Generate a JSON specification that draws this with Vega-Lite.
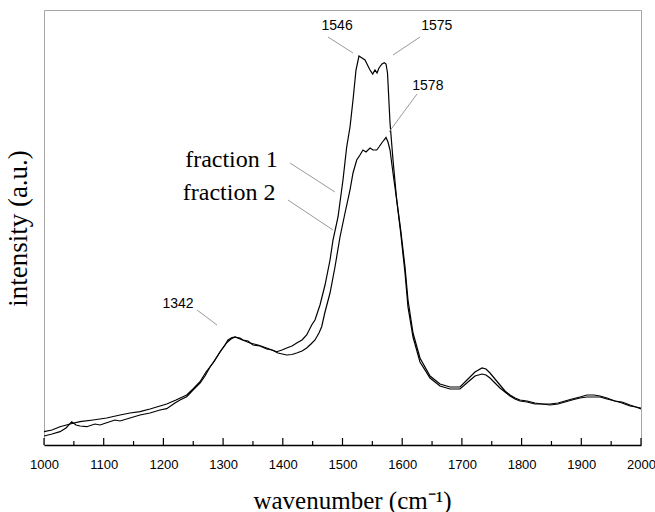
{
  "$schema": "https://vega.github.io/schema/vega-lite/v6.json",
  "width": 597,
  "height": 435,
  "autosize": {"type": "none"},
  "padding": {"left": 44, "top": 10, "right": 14, "bottom": 67},
  "background": "white",
  "config": {
    "view": {"stroke": "#a6a6a6", "strokeWidth": 1},
    "axis": {"grid": false}
  },
  "datasets": {
    "spectra": [
      {"wn": 1000, "inten": 9, "series": "fraction 1"},
      {"wn": 1013.4, "inten": 11, "series": "fraction 1"},
      {"wn": 1026.8, "inten": 13.3, "series": "fraction 1"},
      {"wn": 1036.9, "inten": 17, "series": "fraction 1"},
      {"wn": 1046.4, "inten": 23.3, "series": "fraction 1"},
      {"wn": 1053.6, "inten": 20, "series": "fraction 1"},
      {"wn": 1060.3, "inten": 19, "series": "fraction 1"},
      {"wn": 1071.5, "inten": 18.3, "series": "fraction 1"},
      {"wn": 1085.4, "inten": 21, "series": "fraction 1"},
      {"wn": 1093.8, "inten": 20, "series": "fraction 1"},
      {"wn": 1105.0, "inten": 22.3, "series": "fraction 1"},
      {"wn": 1118.9, "inten": 25, "series": "fraction 1"},
      {"wn": 1127.3, "inten": 24, "series": "fraction 1"},
      {"wn": 1144.1, "inten": 27, "series": "fraction 1"},
      {"wn": 1160.8, "inten": 30, "series": "fraction 1"},
      {"wn": 1177.6, "inten": 32, "series": "fraction 1"},
      {"wn": 1194.3, "inten": 35, "series": "fraction 1"},
      {"wn": 1205.5, "inten": 36.3, "series": "fraction 1"},
      {"wn": 1219.4, "inten": 42, "series": "fraction 1"},
      {"wn": 1227.8, "inten": 45, "series": "fraction 1"},
      {"wn": 1239.0, "inten": 48.3, "series": "fraction 1"},
      {"wn": 1249.6, "inten": 55, "series": "fraction 1"},
      {"wn": 1261.3, "inten": 62, "series": "fraction 1"},
      {"wn": 1269.7, "inten": 69, "series": "fraction 1"},
      {"wn": 1278.1, "inten": 78, "series": "fraction 1"},
      {"wn": 1286.4, "inten": 85, "series": "fraction 1"},
      {"wn": 1294.8, "inten": 93, "series": "fraction 1"},
      {"wn": 1303.2, "inten": 100, "series": "fraction 1"},
      {"wn": 1308.2, "inten": 105, "series": "fraction 1"},
      {"wn": 1314.9, "inten": 107.5, "series": "fraction 1"},
      {"wn": 1319.9, "inten": 108, "series": "fraction 1"},
      {"wn": 1328.3, "inten": 107, "series": "fraction 1"},
      {"wn": 1333.3, "inten": 105, "series": "fraction 1"},
      {"wn": 1341.7, "inten": 104, "series": "fraction 1"},
      {"wn": 1350.1, "inten": 100, "series": "fraction 1"},
      {"wn": 1361.8, "inten": 99, "series": "fraction 1"},
      {"wn": 1373.0, "inten": 96, "series": "fraction 1"},
      {"wn": 1381.9, "inten": 95, "series": "fraction 1"},
      {"wn": 1389.8, "inten": 93.3, "series": "fraction 1"},
      {"wn": 1398.7, "inten": 95, "series": "fraction 1"},
      {"wn": 1406.5, "inten": 97, "series": "fraction 1"},
      {"wn": 1415.4, "inten": 99, "series": "fraction 1"},
      {"wn": 1423.3, "inten": 102, "series": "fraction 1"},
      {"wn": 1432.2, "inten": 105, "series": "fraction 1"},
      {"wn": 1440.0, "inten": 110, "series": "fraction 1"},
      {"wn": 1448.4, "inten": 120, "series": "fraction 1"},
      {"wn": 1453.9, "inten": 125, "series": "fraction 1"},
      {"wn": 1462.3, "inten": 140, "series": "fraction 1"},
      {"wn": 1470.7, "inten": 160, "series": "fraction 1"},
      {"wn": 1479.1, "inten": 185, "series": "fraction 1"},
      {"wn": 1484.1, "inten": 205, "series": "fraction 1"},
      {"wn": 1492.5, "inten": 228, "series": "fraction 1"},
      {"wn": 1500.8, "inten": 265, "series": "fraction 1"},
      {"wn": 1507.0, "inten": 298, "series": "fraction 1"},
      {"wn": 1512.6, "inten": 318, "series": "fraction 1"},
      {"wn": 1517.6, "inten": 345, "series": "fraction 1"},
      {"wn": 1522.6, "inten": 375, "series": "fraction 1"},
      {"wn": 1527.6, "inten": 389, "series": "fraction 1"},
      {"wn": 1532.7, "inten": 387, "series": "fraction 1"},
      {"wn": 1537.7, "inten": 385, "series": "fraction 1"},
      {"wn": 1542.7, "inten": 379, "series": "fraction 1"},
      {"wn": 1546.1, "inten": 375, "series": "fraction 1"},
      {"wn": 1550.6, "inten": 371, "series": "fraction 1"},
      {"wn": 1554.4, "inten": 375, "series": "fraction 1"},
      {"wn": 1557.8, "inten": 372, "series": "fraction 1"},
      {"wn": 1561.1, "inten": 377, "series": "fraction 1"},
      {"wn": 1566.2, "inten": 381, "series": "fraction 1"},
      {"wn": 1570.0, "inten": 382.3, "series": "fraction 1"},
      {"wn": 1572.9, "inten": 381, "series": "fraction 1"},
      {"wn": 1575.4, "inten": 372, "series": "fraction 1"},
      {"wn": 1579.6, "inten": 322, "series": "fraction 1"},
      {"wn": 1584.6, "inten": 285, "series": "fraction 1"},
      {"wn": 1590.8, "inten": 245, "series": "fraction 1"},
      {"wn": 1597.5, "inten": 215, "series": "fraction 1"},
      {"wn": 1604.7, "inten": 178, "series": "fraction 1"},
      {"wn": 1609.7, "inten": 145, "series": "fraction 1"},
      {"wn": 1618.1, "inten": 112, "series": "fraction 1"},
      {"wn": 1629.8, "inten": 87, "series": "fraction 1"},
      {"wn": 1646.6, "inten": 69, "series": "fraction 1"},
      {"wn": 1663.3, "inten": 61, "series": "fraction 1"},
      {"wn": 1680.1, "inten": 58, "series": "fraction 1"},
      {"wn": 1696.8, "inten": 58, "series": "fraction 1"},
      {"wn": 1710.2, "inten": 66, "series": "fraction 1"},
      {"wn": 1721.9, "inten": 73, "series": "fraction 1"},
      {"wn": 1733.7, "inten": 77, "series": "fraction 1"},
      {"wn": 1740.4, "inten": 76, "series": "fraction 1"},
      {"wn": 1747.1, "inten": 72, "series": "fraction 1"},
      {"wn": 1755.4, "inten": 66, "series": "fraction 1"},
      {"wn": 1763.8, "inten": 60, "series": "fraction 1"},
      {"wn": 1772.2, "inten": 54, "series": "fraction 1"},
      {"wn": 1780.6, "inten": 50, "series": "fraction 1"},
      {"wn": 1789.0, "inten": 47, "series": "fraction 1"},
      {"wn": 1797.3, "inten": 45, "series": "fraction 1"},
      {"wn": 1809.0, "inten": 44, "series": "fraction 1"},
      {"wn": 1822.4, "inten": 42, "series": "fraction 1"},
      {"wn": 1834.2, "inten": 41, "series": "fraction 1"},
      {"wn": 1847.6, "inten": 41, "series": "fraction 1"},
      {"wn": 1861.0, "inten": 42, "series": "fraction 1"},
      {"wn": 1872.7, "inten": 44, "series": "fraction 1"},
      {"wn": 1884.4, "inten": 46, "series": "fraction 1"},
      {"wn": 1897.8, "inten": 48, "series": "fraction 1"},
      {"wn": 1909.5, "inten": 50, "series": "fraction 1"},
      {"wn": 1921.3, "inten": 50, "series": "fraction 1"},
      {"wn": 1931.3, "inten": 49, "series": "fraction 1"},
      {"wn": 1943.0, "inten": 47, "series": "fraction 1"},
      {"wn": 1956.4, "inten": 44, "series": "fraction 1"},
      {"wn": 1968.2, "inten": 43, "series": "fraction 1"},
      {"wn": 1981.6, "inten": 40, "series": "fraction 1"},
      {"wn": 1991.6, "inten": 38, "series": "fraction 1"},
      {"wn": 2000, "inten": 37, "series": "fraction 1"},

      {"wn": 1000, "inten": 13.3, "series": "fraction 2"},
      {"wn": 1013.4, "inten": 15, "series": "fraction 2"},
      {"wn": 1026.8, "inten": 18.3, "series": "fraction 2"},
      {"wn": 1043.6, "inten": 21, "series": "fraction 2"},
      {"wn": 1060.3, "inten": 23.3, "series": "fraction 2"},
      {"wn": 1082.1, "inten": 25, "series": "fraction 2"},
      {"wn": 1105.0, "inten": 27, "series": "fraction 2"},
      {"wn": 1127.3, "inten": 30, "series": "fraction 2"},
      {"wn": 1144.1, "inten": 32, "series": "fraction 2"},
      {"wn": 1160.8, "inten": 33.3, "series": "fraction 2"},
      {"wn": 1177.6, "inten": 36, "series": "fraction 2"},
      {"wn": 1194.3, "inten": 39, "series": "fraction 2"},
      {"wn": 1205.5, "inten": 41, "series": "fraction 2"},
      {"wn": 1221.1, "inten": 45, "series": "fraction 2"},
      {"wn": 1239.0, "inten": 50, "series": "fraction 2"},
      {"wn": 1249.6, "inten": 56, "series": "fraction 2"},
      {"wn": 1261.3, "inten": 63.3, "series": "fraction 2"},
      {"wn": 1271.4, "inten": 73, "series": "fraction 2"},
      {"wn": 1283.1, "inten": 82, "series": "fraction 2"},
      {"wn": 1294.8, "inten": 93, "series": "fraction 2"},
      {"wn": 1306.0, "inten": 102.3, "series": "fraction 2"},
      {"wn": 1313.2, "inten": 106, "series": "fraction 2"},
      {"wn": 1319.9, "inten": 108, "series": "fraction 2"},
      {"wn": 1328.3, "inten": 106, "series": "fraction 2"},
      {"wn": 1336.7, "inten": 104, "series": "fraction 2"},
      {"wn": 1345.1, "inten": 102, "series": "fraction 2"},
      {"wn": 1358.5, "inten": 100, "series": "fraction 2"},
      {"wn": 1373.0, "inten": 97, "series": "fraction 2"},
      {"wn": 1381.9, "inten": 95, "series": "fraction 2"},
      {"wn": 1391.9, "inten": 92, "series": "fraction 2"},
      {"wn": 1406.5, "inten": 90, "series": "fraction 2"},
      {"wn": 1415.4, "inten": 90.5, "series": "fraction 2"},
      {"wn": 1423.3, "inten": 92, "series": "fraction 2"},
      {"wn": 1432.2, "inten": 94, "series": "fraction 2"},
      {"wn": 1440.0, "inten": 97, "series": "fraction 2"},
      {"wn": 1447.2, "inten": 101, "series": "fraction 2"},
      {"wn": 1453.9, "inten": 105, "series": "fraction 2"},
      {"wn": 1460.6, "inten": 112, "series": "fraction 2"},
      {"wn": 1465.1, "inten": 118.3, "series": "fraction 2"},
      {"wn": 1470.7, "inten": 133, "series": "fraction 2"},
      {"wn": 1479.1, "inten": 152, "series": "fraction 2"},
      {"wn": 1487.4, "inten": 178, "series": "fraction 2"},
      {"wn": 1495.8, "inten": 208, "series": "fraction 2"},
      {"wn": 1504.2, "inten": 232, "series": "fraction 2"},
      {"wn": 1512.6, "inten": 255, "series": "fraction 2"},
      {"wn": 1517.6, "inten": 272, "series": "fraction 2"},
      {"wn": 1523.8, "inten": 285, "series": "fraction 2"},
      {"wn": 1529.3, "inten": 290, "series": "fraction 2"},
      {"wn": 1534.3, "inten": 295, "series": "fraction 2"},
      {"wn": 1539.4, "inten": 293, "series": "fraction 2"},
      {"wn": 1546.1, "inten": 297, "series": "fraction 2"},
      {"wn": 1551.1, "inten": 295, "series": "fraction 2"},
      {"wn": 1557.3, "inten": 295, "series": "fraction 2"},
      {"wn": 1561.1, "inten": 298, "series": "fraction 2"},
      {"wn": 1565.7, "inten": 302, "series": "fraction 2"},
      {"wn": 1569.5, "inten": 305, "series": "fraction 2"},
      {"wn": 1572.9, "inten": 307.5, "series": "fraction 2"},
      {"wn": 1576.2, "inten": 303, "series": "fraction 2"},
      {"wn": 1579.6, "inten": 295, "series": "fraction 2"},
      {"wn": 1584.6, "inten": 272, "series": "fraction 2"},
      {"wn": 1590.8, "inten": 245, "series": "fraction 2"},
      {"wn": 1597.5, "inten": 212, "series": "fraction 2"},
      {"wn": 1604.7, "inten": 172, "series": "fraction 2"},
      {"wn": 1609.7, "inten": 138, "series": "fraction 2"},
      {"wn": 1618.1, "inten": 108, "series": "fraction 2"},
      {"wn": 1629.8, "inten": 83, "series": "fraction 2"},
      {"wn": 1646.6, "inten": 67, "series": "fraction 2"},
      {"wn": 1663.3, "inten": 59, "series": "fraction 2"},
      {"wn": 1680.1, "inten": 56, "series": "fraction 2"},
      {"wn": 1696.8, "inten": 56, "series": "fraction 2"},
      {"wn": 1710.2, "inten": 63, "series": "fraction 2"},
      {"wn": 1721.9, "inten": 69, "series": "fraction 2"},
      {"wn": 1733.7, "inten": 71, "series": "fraction 2"},
      {"wn": 1740.4, "inten": 70, "series": "fraction 2"},
      {"wn": 1747.1, "inten": 67, "series": "fraction 2"},
      {"wn": 1755.4, "inten": 62, "series": "fraction 2"},
      {"wn": 1763.8, "inten": 57, "series": "fraction 2"},
      {"wn": 1772.2, "inten": 53, "series": "fraction 2"},
      {"wn": 1780.6, "inten": 49, "series": "fraction 2"},
      {"wn": 1789.0, "inten": 46, "series": "fraction 2"},
      {"wn": 1797.3, "inten": 44, "series": "fraction 2"},
      {"wn": 1809.0, "inten": 43, "series": "fraction 2"},
      {"wn": 1822.4, "inten": 41, "series": "fraction 2"},
      {"wn": 1834.2, "inten": 41, "series": "fraction 2"},
      {"wn": 1847.6, "inten": 40, "series": "fraction 2"},
      {"wn": 1861.0, "inten": 41, "series": "fraction 2"},
      {"wn": 1872.7, "inten": 43, "series": "fraction 2"},
      {"wn": 1884.4, "inten": 45, "series": "fraction 2"},
      {"wn": 1897.8, "inten": 47, "series": "fraction 2"},
      {"wn": 1909.5, "inten": 48, "series": "fraction 2"},
      {"wn": 1921.3, "inten": 48, "series": "fraction 2"},
      {"wn": 1931.3, "inten": 48, "series": "fraction 2"},
      {"wn": 1943.0, "inten": 46, "series": "fraction 2"},
      {"wn": 1956.4, "inten": 44, "series": "fraction 2"},
      {"wn": 1968.2, "inten": 42, "series": "fraction 2"},
      {"wn": 1981.6, "inten": 39, "series": "fraction 2"},
      {"wn": 1991.6, "inten": 38, "series": "fraction 2"},
      {"wn": 2000, "inten": 36, "series": "fraction 2"}
    ],
    "peaks": [
      {"wn": 1491, "inten": 415, "label": "1546"},
      {"wn": 1658, "inten": 415, "label": "1575"},
      {"wn": 1643, "inten": 355, "label": "1578"},
      {"wn": 1224.5, "inten": 137, "label": "1342"}
    ],
    "names": [
      {"wn": 1314, "inten": 278, "label": "fraction 1"},
      {"wn": 1310, "inten": 245, "label": "fraction 2"}
    ],
    "leaders": [
      {"wn": 1475.7, "inten": 408, "wn2": 1517.6, "inten2": 392},
      {"wn": 1629.8, "inten": 408, "wn2": 1584.6, "inten2": 390},
      {"wn": 1624.8, "inten": 351, "wn2": 1577.9, "inten2": 313},
      {"wn": 1256.3, "inten": 135, "wn2": 1289.8, "inten2": 120},
      {"wn": 1412.1, "inten": 282, "wn2": 1487.4, "inten2": 253},
      {"wn": 1408.7, "inten": 245, "wn2": 1484.1, "inten2": 215}
    ],
    "tickvals": [
      {"wn": 1000}, {"wn": 1050}, {"wn": 1100}, {"wn": 1150}, {"wn": 1200},
      {"wn": 1250}, {"wn": 1300}, {"wn": 1350}, {"wn": 1400}, {"wn": 1450},
      {"wn": 1500}, {"wn": 1550}, {"wn": 1600}, {"wn": 1650}, {"wn": 1700},
      {"wn": 1750}, {"wn": 1800}, {"wn": 1850}, {"wn": 1900}, {"wn": 1950},
      {"wn": 2000}
    ]
  },
  "layer": [
    {
      "data": {"name": "spectra"},
      "mark": {"type": "line", "color": "black", "strokeWidth": 1.2, "clip": true},
      "encoding": {
        "x": {
          "field": "wn", "type": "quantitative",
          "scale": {"domain": [1000, 2000], "nice": false, "zero": false},
          "axis": {
            "values": [1000, 1100, 1200, 1300, 1400, 1500, 1600, 1700, 1800, 1900, 2000],
            "format": "d",
            "labelFont": "Liberation Sans",
            "labelFontSize": 13,
            "labelColor": "black",
            "labelPadding": 13,
            "labelFlush": false,
            "labelOverlap": false,
            "domainColor": "black",
            "domainWidth": 1.5,
            "ticks": false,
            "title": "wavenumber (cm⁻¹)",
            "titleFont": "Liberation Serif",
            "titleFontSize": 25,
            "titleFontWeight": "normal",
            "titleColor": "black",
            "titleX": 308,
            "titleY": 63,
            "titleAlign": "center",
            "titleBaseline": "alphabetic"
          }
        },
        "y": {
          "field": "inten", "type": "quantitative",
          "scale": {"domain": [0, 435], "nice": false, "zero": false},
          "axis": {
            "labels": false, "ticks": false, "domain": false,
            "title": "intensity (a.u.)",
            "titleFont": "Liberation Serif",
            "titleFontSize": 27,
            "titleFontWeight": "normal",
            "titleColor": "black",
            "titleAngle": -90,
            "titleX": -26,
            "titleY": 218,
            "titleAlign": "center",
            "titleBaseline": "middle"
          }
        },
        "detail": {"field": "series"}
      }
    },
    {
      "data": {"name": "tickvals"},
      "transform": [{"filter": "datum.wn % 100 === 0"}],
      "mark": {"type": "rule", "color": "black", "strokeWidth": 1.2},
      "encoding": {
        "x": {"field": "wn", "type": "quantitative"},
        "y": {"datum": 0},
        "y2": {"datum": 7}
      }
    },
    {
      "data": {"name": "tickvals"},
      "transform": [{"filter": "datum.wn % 100 !== 0"}],
      "mark": {"type": "rule", "color": "black", "strokeWidth": 1.2},
      "encoding": {
        "x": {"field": "wn", "type": "quantitative"},
        "y": {"datum": 0},
        "y2": {"datum": 4}
      }
    },
    {
      "data": {"name": "leaders"},
      "mark": {"type": "rule", "color": "#9a9a9a", "strokeWidth": 1},
      "encoding": {
        "x": {"field": "wn", "type": "quantitative"},
        "y": {"field": "inten", "type": "quantitative"},
        "x2": {"field": "wn2"},
        "y2": {"field": "inten2"}
      }
    },
    {
      "data": {"name": "peaks"},
      "mark": {"type": "text", "font": "Liberation Sans", "fontSize": 14, "color": "black", "align": "center", "baseline": "alphabetic"},
      "encoding": {
        "x": {"field": "wn", "type": "quantitative"},
        "y": {"field": "inten", "type": "quantitative"},
        "text": {"field": "label"}
      }
    },
    {
      "data": {"name": "names"},
      "mark": {"type": "text", "font": "Liberation Serif", "fontSize": 24, "color": "black", "align": "center", "baseline": "alphabetic"},
      "encoding": {
        "x": {"field": "wn", "type": "quantitative"},
        "y": {"field": "inten", "type": "quantitative"},
        "text": {"field": "label"}
      }
    }
  ]
}
